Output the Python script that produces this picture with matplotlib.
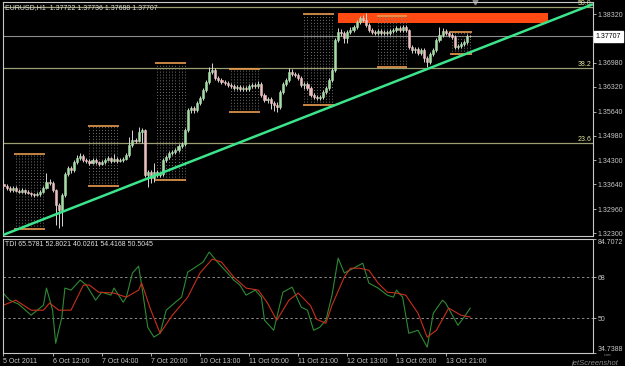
import matplotlib.pyplot as plt
import numpy as np

plt.rcParams['font.family'] = ['Liberation Sans Narrow', 'Liberation Sans', 'DejaVu Sans']

# ---- price data (EURUSD H1) ----
first_open = 1.3365
closes = [1.3359, 1.3354, 1.3348, 1.3354, 1.3346, 1.3343, 1.3348, 1.3343, 1.3340, 1.3337,
          1.3335, 1.3337, 1.3343, 1.3354, 1.3370, 1.3368, 1.3348, 1.3307, 1.3293, 1.3335,
          1.3392, 1.3409, 1.3403, 1.3425, 1.3436, 1.3442, 1.3431, 1.3428, 1.3423, 1.3431,
          1.3425, 1.3420, 1.3425, 1.3431, 1.3436, 1.3428, 1.3434, 1.3428, 1.3431, 1.3434,
          1.3444, 1.3472, 1.3486, 1.3483, 1.3508, 1.3513, 1.3390, 1.3398, 1.3381, 1.3398,
          1.3390, 1.3392, 1.3431, 1.3439, 1.3450, 1.3453, 1.3458, 1.3469, 1.3475, 1.3513,
          1.3568, 1.3574, 1.3568, 1.3588, 1.3601, 1.3623, 1.3645, 1.3673, 1.3678, 1.3656,
          1.3651, 1.3645, 1.3643, 1.3637, 1.3634, 1.3629, 1.3632, 1.3626, 1.3629, 1.3626,
          1.3634, 1.3637, 1.3634, 1.3640, 1.3610, 1.3596, 1.3599, 1.3588, 1.3582, 1.3577,
          1.3618, 1.3640, 1.3651, 1.3673, 1.3667, 1.3665, 1.3656, 1.3637, 1.3640, 1.3629,
          1.3610, 1.3604, 1.3601, 1.3604, 1.3618, 1.3629, 1.3651, 1.3678, 1.3761, 1.3783,
          1.3780, 1.3766, 1.3783, 1.3788, 1.3797, 1.3810, 1.3821, 1.3816, 1.3802, 1.3788,
          1.3783, 1.3780, 1.3786, 1.3780, 1.3783, 1.3780, 1.3786, 1.3788, 1.3794, 1.3788,
          1.3797, 1.3788, 1.3742, 1.3733, 1.3736, 1.3725, 1.3733, 1.3711, 1.3700, 1.3722,
          1.3733, 1.3761, 1.3775, 1.3786, 1.3780, 1.3775, 1.3769, 1.3742, 1.3744, 1.3750,
          1.3755, 1.37722, 1.37707]
highs = [1.3381, 1.3364, 1.3358, 1.3360, 1.3358, 1.3350, 1.3353, 1.3351, 1.3347, 1.3344,
         1.3341, 1.3342, 1.3348, 1.3359, 1.3395, 1.3378, 1.3372, 1.3352, 1.3312, 1.3340,
         1.3398, 1.3415, 1.3414, 1.3430, 1.3444, 1.3450, 1.3446, 1.3436, 1.3433, 1.3436,
         1.3435, 1.3429, 1.3430, 1.3436, 1.3442, 1.3440, 1.3447, 1.3438, 1.3436, 1.3439,
         1.3450, 1.3494, 1.3513, 1.3492, 1.3522, 1.3519, 1.3516, 1.3404, 1.3402, 1.3423,
         1.3403, 1.3397, 1.3436, 1.3445, 1.3456, 1.3459, 1.3464, 1.3474, 1.3481, 1.3519,
         1.3574, 1.3580, 1.3579, 1.3594, 1.3607, 1.3629, 1.3651, 1.3686, 1.3698, 1.3683,
         1.3661, 1.3656, 1.3650, 1.3648, 1.3642, 1.3639, 1.3637, 1.3636, 1.3634, 1.3634,
         1.3640, 1.3643, 1.3642, 1.3648, 1.3645, 1.3615, 1.3605, 1.3604, 1.3593, 1.3590,
         1.3623, 1.3646, 1.3657, 1.3684, 1.3680, 1.3673, 1.3670, 1.3661, 1.3646, 1.3645,
         1.3634, 1.3615, 1.3610, 1.3610, 1.3624, 1.3635, 1.3657, 1.3684, 1.3767, 1.3794,
         1.3791, 1.3786, 1.3789, 1.3797, 1.3803, 1.3816, 1.3827, 1.3830, 1.3835, 1.3807,
         1.3793, 1.3788, 1.3791, 1.3790, 1.3788, 1.3788, 1.3791, 1.3794, 1.3800, 1.3799,
         1.3803, 1.3802, 1.3792, 1.3747, 1.3742, 1.3741, 1.3739, 1.3738, 1.3716, 1.3728,
         1.3739, 1.3767, 1.3797, 1.3794, 1.3791, 1.3786, 1.3780, 1.3773, 1.3750, 1.3756,
         1.3761, 1.3777, 1.37736]
lows = [1.3354, 1.3349, 1.3343, 1.3344, 1.3342, 1.3339, 1.3339, 1.3338, 1.3336, 1.3332,
        1.3330, 1.3331, 1.3333, 1.3339, 1.3350, 1.3362, 1.3343, 1.3252, 1.3244, 1.3249,
        1.3330, 1.3386, 1.3396, 1.3398, 1.3420, 1.3431, 1.3426, 1.3423, 1.3418, 1.3419,
        1.3420, 1.3415, 1.3416, 1.3421, 1.3427, 1.3423, 1.3424, 1.3423, 1.3424, 1.3426,
        1.3430, 1.3440, 1.3467, 1.3478, 1.3479, 1.3477, 1.3385, 1.3357, 1.3368, 1.3370,
        1.3385, 1.3384, 1.3388, 1.3426, 1.3434, 1.3445, 1.3447, 1.3453, 1.3464, 1.3470,
        1.3508, 1.3561, 1.3560, 1.3563, 1.3583, 1.3596, 1.3618, 1.3640, 1.3666, 1.3650,
        1.3645, 1.3640, 1.3637, 1.3632, 1.3629, 1.3624, 1.3624, 1.3621, 1.3621, 1.3621,
        1.3621, 1.3629, 1.3629, 1.3629, 1.3604, 1.3590, 1.3588, 1.3570, 1.3566, 1.3563,
        1.3572, 1.3612, 1.3634, 1.3646, 1.3661, 1.3659, 1.3650, 1.3632, 1.3626, 1.3623,
        1.3604, 1.3598, 1.3595, 1.3595, 1.3598, 1.3612, 1.3624, 1.3646, 1.3673, 1.3755,
        1.3772, 1.3753, 1.3753, 1.3777, 1.3782, 1.3791, 1.3804, 1.3810, 1.3797, 1.3782,
        1.3777, 1.3774, 1.3775, 1.3775, 1.3775, 1.3774, 1.3775, 1.3780, 1.3783, 1.3782,
        1.3782, 1.3782, 1.3736, 1.3725, 1.3726, 1.3718, 1.3719, 1.3700, 1.3687, 1.3694,
        1.3716, 1.3728, 1.3755, 1.3769, 1.3774, 1.3769, 1.3763, 1.3736, 1.3736, 1.3738,
        1.3744, 1.3749, 1.37688]

bid = 1.37707
price_ticks = [1.3832, 1.3698, 1.3632, 1.3564, 1.3498, 1.3430, 1.3364, 1.3296, 1.3230]
time_ticks = [0, 16, 32, 48, 64, 80, 96, 112, 128, 144]
time_labels = ['5 Oct 2011', '6 Oct 12:00', '7 Oct 04:00', '7 Oct 20:00', '10 Oct 13:00',
               '11 Oct 05:00', '11 Oct 21:00', '12 Oct 13:00', '13 Oct 05:00', '13 Oct 21:00']

# fibonacci levels
fib_levels = [23.6, 38.2, 50.0]
fib_prices = [1.3477, 1.3684, 1.3850]

# session range boxes (bar from / to, high / low)
box_start = [4, 28, 50, 74, 98, 122, 146]
box_end = [13, 37, 59, 83, 107, 131, 152]
box_top = [1.3448, 1.3524, 1.3698, 1.3681, 1.3831, 1.3827, 1.3782]
box_bottom = [1.3241, 1.3360, 1.3377, 1.3563, 1.3582, 1.3685, 1.3723]

# supply zone and trendline
zone_bars = [109, 177.4]
zone_low, zone_high = 1.3806, 1.3835
trend_bars = [0, 192]
trend_prices = [1.3225, 1.3859]

# TDI indicator (green = price line, red = signal line)
green_idx = [0, 2, 5, 9, 11, 13, 14, 16, 17, 19, 20, 22, 25, 27, 30, 32, 35, 36, 39, 40,
             42, 44, 45, 47, 49, 51, 53, 56, 58, 60, 62, 65, 67, 70, 73, 75, 77, 79, 82, 84,
             85, 88, 91, 94, 97, 99, 101, 103, 105, 107, 109, 111, 114, 117, 119, 122, 125, 127, 128, 130,
             132, 135, 138, 140, 143, 144, 148, 150, 152]
green_val = [60.8, 57.9, 56.1, 51.3, 53.5, 55.7, 63.2, 53.5, 39.0, 50.4, 63.2, 62.3, 66.7, 64.5, 57.9, 61.4, 60.1, 63.2, 57.0, 59.2,
             69.8, 72.8, 64.5, 46.0, 41.7, 43.4, 53.5, 57.0, 59.2, 70.2, 71.9, 74.6, 79.0, 74.1, 69.8, 66.7, 64.5, 60.1, 62.3, 59.2,
             49.1, 44.7, 61.4, 63.6, 54.8, 53.5, 44.7, 46.0, 49.1, 60.1, 76.3, 69.8, 71.9, 74.1, 65.4, 63.2, 60.1, 59.2, 62.3, 59.2,
             43.4, 44.7, 37.3, 52.2, 57.9, 56.6, 46.9, 50.4, 54.4]
red_idx = [0, 4, 9, 13, 15, 18, 22, 26, 28, 31, 36, 40, 44, 45, 48, 51, 55, 60, 64, 68,
           71, 75, 79, 83, 86, 89, 93, 96, 100, 102, 105, 107, 111, 113, 116, 119, 122, 125, 128, 131,
           135, 138, 141, 145, 149, 152]
red_val = [55.7, 57.9, 53.5, 53.5, 56.6, 53.5, 53.5, 64.5, 64.5, 61.4, 61.0, 59.2, 62.3, 65.4, 53.5, 43.4, 51.3, 59.2, 69.8, 75.9,
           74.6, 68.0, 63.2, 62.3, 56.6, 49.1, 57.9, 61.0, 55.5, 49.5, 47.8, 55.7, 68.0, 71.9, 71.9, 71.0, 65.4, 61.4, 61.0, 60.1,
           52.2, 41.7, 44.7, 54.4, 51.3, 50.5]
tdi_min, tdi_max = 34.7388, 84.7072
tdi_levels = [68, 50]

FG = '#c8c8c8'
FS = 5.0

fig = plt.figure(figsize=(6.25, 3.66), dpi=100, facecolor='black')
ax = fig.add_axes([3/625, 130/366, 590/625, 234/366], facecolor='black')
ax2 = fig.add_axes([3/625, 13/366, 590/625, 114/366], facecolor='black')

## main price panel
ax.fill_between(zone_bars, zone_low, zone_high, color='#ff4a14', lw=0, zorder=1)
for lvl, p in zip(fib_levels, fib_prices):
    ax.axhline(p, color='#9e9e74', lw=0.9, zorder=1.2)
    ax.text(0.998, p, '%.1f' % lvl, transform=ax.get_yaxis_transform(), ha='right', va='bottom',
            color='#e6e6a0', fontsize=FS, zorder=6)
ax.axhline(bid, color='#8c8c8c', lw=0.8, zorder=1.2)

for s, e, t, b in zip(box_start, box_end, box_top, box_bottom):
    ax.vlines(np.arange(s, e + 1), b, t, colors='#707070', linestyles=(0, (1, 2)), lw=0.7, zorder=2)
    ax.hlines([t, b], s - 0.5, e + 0.5, colors='#e89a4c', lw=1.2, zorder=3)

idx = np.arange(len(closes))
c = np.array(closes)
o = np.array([first_open] + closes[:-1])
up = c >= o
ax.vlines(idx, lows, highs, colors='#d8d8d8', lw=0.7, zorder=4)
ax.bar(idx[up], (c - o)[up], bottom=o[up], width=0.68, color='#a6dca6', edgecolor='#a6dca6', lw=0.4, zorder=5)
ax.bar(idx[~up], (o - c)[~up], bottom=c[~up], width=0.68, color='#ecc0c0', edgecolor='#ecc0c0', lw=0.4, zorder=5)

ax.plot(trend_bars, trend_prices, color='#3ce48c', lw=1.8, zorder=7, solid_capstyle='butt')

ax.set_xlim(-0.16, 192.0)
ax.set_ylim(1.32218, 1.38650)
ax.set_xticks([])
ax.yaxis.tick_right()
ax.set_yticks(price_ticks)
ax.set_yticklabels(['%.5f' % t for t in price_ticks])
ax.tick_params(axis='y', colors=FG, length=2, width=0.6, pad=1.5, labelsize=FS)
ax.text(1.005, bid, '%.5f' % bid, transform=ax.get_yaxis_transform(), ha='left', va='center',
        fontsize=FS, color='black', clip_on=False,
        bbox=dict(boxstyle='square,pad=0.3', fc='white', ec='white'))
ax.plot([len(closes) + 0.6], [1.0], marker='v', color='#8a8a8a', ms=3.5,
        transform=ax.get_xaxis_transform(), clip_on=False)

## TDI panel
for lvl in tdi_levels:
    ax2.axhline(lvl, color='#8a8a8a', lw=0.7, ls=(0, (2.5, 2.5)))
ax2.plot(green_idx, green_val, color='#2f8a35', lw=0.8)
ax2.plot(red_idx, red_val, color='#c8301c', lw=0.8)
ax2.set_xlim(-0.16, 192.0)
ax2.set_ylim(tdi_min, tdi_max)
ax2.yaxis.tick_right()
ax2.set_yticks([tdi_max] + tdi_levels + [tdi_min])
ax2.set_yticklabels(['%.4f' % tdi_max, '68', '50', '%.4f' % tdi_min])
ax2.tick_params(axis='y', colors=FG, length=2, width=0.6, pad=1.5, labelsize=FS)
ylabs = ax2.get_yticklabels()
ylabs[0].set_va('top')
ylabs[-1].set_va('bottom')
ax2.set_xticks(time_ticks)
ax2.set_xticklabels(time_labels)
ax2.tick_params(axis='x', colors=FG, length=2, width=0.6, pad=1.5, labelsize=FS)
for tl in ax2.get_xticklabels():
    tl.set_ha('left')

for a in (ax, ax2):
    for sp in a.spines.values():
        sp.set_color(FG)
        sp.set_linewidth(0.8)

fig.text(5/625, 1 - 8/366, 'EURUSD,H1  1.37722 1.37736 1.37688 1.37707', color='#e0e0e0',
         fontsize=FS, va='center', ha='left')
fig.text(5/625, 1 - 245/366, 'TDI 65.5781 52.8021 40.0261 54.4168 50.5045', color='#e0e0e0',
         fontsize=FS, va='center', ha='left')
fig.text(0.99, -0.004, 'jetScreenshot', color='#8a8a8a', fontsize=5.5, style='italic',
         ha='right', va='bottom', family=['Liberation Sans', 'DejaVu Sans'])
fig.text(0.978, 0.024, '.com', color='#8a8a8a', fontsize=2.5, ha='right', va='bottom')

plt.savefig('out.png', dpi=100, facecolor='black')
plt.close()
